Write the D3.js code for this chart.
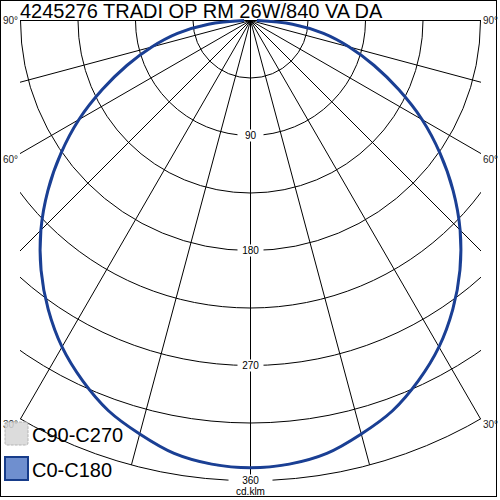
<!DOCTYPE html>
<html>
<head>
<meta charset="utf-8">
<script src="https://cdn.jsdelivr.net/npm/d3@7"></script>
<style>
  body { margin: 0; background: #fff; }
  svg { display: block; font-family: "Liberation Sans", Arial, sans-serif; }
</style>
</head>
<body>
<svg width="500" height="500"></svg>
<script>
// chart data
const title = "4245276 TRADI OP RM 26W/840 VA DA";
const unitLabel = "cd.klm";
const gammaAngles = [0, 5, 10, 15, 20, 25, 30, 35, 40, 45, 50, 55, 60, 65, 70, 75, 80, 85, 90];
const c0c180 = [350, 348.5, 344, 335, 325, 311, 295, 276, 255, 232, 207, 181, 155, 128, 103, 80, 58, 33, 5];
const c90c270 = [350, 348.5, 344, 335, 325, 311, 295, 276, 255, 232, 207, 181, 155, 128, 103, 80, 58, 33, 5];
const ringValues = [45, 90, 135, 180, 225, 270, 315, 360];
const ringLabels = [90, 180, 270, 360];
const radialAngles = [-90, -75, -60, -45, -30, -15, 0, 15, 30, 45, 60, 75, 90];
const angleLabels = [90, 60, 30];
const legendItems = ["C90-C270", "C0-C180"];

const svg = d3.select("svg");
const cx = 250.5, cy = 20.5;
const r = d3.scaleLinear().domain([0, 360]).range([0, 460]);
const rad = d => d * Math.PI / 180;

// frame
svg.append("rect")
    .attr("x", 0.5).attr("y", 0.5)
    .attr("width", 496).attr("height", 496)
    .attr("fill", "none").attr("stroke", "#000");

svg.append("defs").append("clipPath").attr("id", "box")
    .append("rect")
    .attr("x", -230.5).attr("y", -1)
    .attr("width", 461).attr("height", 461.5);

const g = svg.append("g").attr("transform", `translate(${cx},${cy})`);
const grid = g.append("g").attr("clip-path", "url(#box)")
    .attr("fill", "none").attr("stroke", "#000").attr("stroke-width", 1);

// rings (lower half circles)
grid.selectAll("path.ring")
    .data(ringValues)
    .enter().append("path")
    .attr("class", "ring")
    .attr("d", v => {
        const p = d3.path();
        p.moveTo(r(v), 0);
        p.arc(0, 0, r(v), 0, Math.PI);
        return p.toString();
    });

// radial lines, angle measured from straight down
grid.selectAll("line.spoke")
    .data(radialAngles)
    .enter().append("line")
    .attr("class", "spoke")
    .attr("x1", 0).attr("y1", 0)
    .attr("x2", a => r(360) * Math.sin(rad(a)))
    .attr("y2", a => r(360) * Math.cos(rad(a)));

// ring value labels
const rl = g.selectAll("g.rlab")
    .data(ringLabels)
    .enter().append("g")
    .attr("class", "rlab")
    .attr("transform", v => `translate(0,${r(v)})`);
rl.append("rect")
    .attr("x", v => v === 360 ? -22 : -13)
    .attr("y", -6)
    .attr("width", v => v === 360 ? 44 : 26)
    .attr("height", 12)
    .attr("fill", "#fff");
rl.append("text")
    .attr("text-anchor", "middle")
    .attr("dy", "0.35em")
    .attr("font-size", 10)
    .attr("fill", "#000")
    .text(v => v);

g.append("text")
    .attr("x", 0).attr("y", 474.5)
    .attr("text-anchor", "middle")
    .attr("font-size", 10)
    .text(unitLabel);

// angle labels on both sides
angleLabels.forEach(a => {
    const s = Math.sin(rad(a)), c = Math.cos(rad(a));
    const t = Math.min(r(360), 230 / s);
    const y = t * c + (a === 90 ? 0 : 6);
    [-1, 1].forEach(side => {
        g.append("text")
            .attr("x", side < 0 ? -247.5 : 232.5)
            .attr("y", y)
            .attr("dy", "0.35em")
            .attr("font-size", 10)
            .attr("fill", "#222")
            .text(a + "°");
    });
});

// intensity curves
function curvePoints(vals) {
    const left = gammaAngles.map((a, i) => [Math.PI + rad(a), r(vals[i])]).reverse();
    const right = gammaAngles.slice(1).map((a, i) => [Math.PI - rad(a), r(vals[i + 1])]);
    return left.concat(right);
}
const radial = d3.lineRadial()
    .angle(d => d[0])
    .radius(d => d[1])
    .curve(d3.curveCatmullRom);

g.append("path")
    .attr("d", radial(curvePoints(c90c270)))
    .attr("fill", "none")
    .attr("stroke", "#bdbdbd")
    .attr("stroke-width", 2)
    .attr("stroke-dasharray", "6,3");

g.append("path")
    .attr("d", radial(curvePoints(c0c180)))
    .attr("fill", "none")
    .attr("stroke", "#1a3f94")
    .attr("stroke-width", 3);

// title
svg.append("text")
    .attr("x", 20).attr("y", 18)
    .attr("font-size", 20)
    .attr("fill", "#000")
    .text(title);

// legend
const leg = svg.selectAll("g.leg")
    .data(legendItems)
    .enter().append("g")
    .attr("class", "leg")
    .attr("transform", (d, i) => `translate(5,${422 + i * 35})`);
leg.append("rect")
    .attr("width", 23).attr("height", 23)
    .attr("rx", (d, i) => i === 0 ? 2 : 0)
    .attr("fill", (d, i) => i === 0 ? "#d6d6d6" : "#6f8fcf")
    .attr("fill-opacity", (d, i) => i === 0 ? 0.85 : 1)
    .attr("stroke", (d, i) => i === 0 ? "#b4b4b4" : "#173c8a")
    .attr("stroke-width", (d, i) => i === 0 ? 1 : 2)
    .attr("stroke-dasharray", (d, i) => i === 0 ? "3,1" : null);
leg.append("text")
    .attr("x", 27).attr("y", 20)
    .attr("font-size", 20)
    .attr("fill", "#000")
    .text(d => d);
</script>
</body>
</html>
